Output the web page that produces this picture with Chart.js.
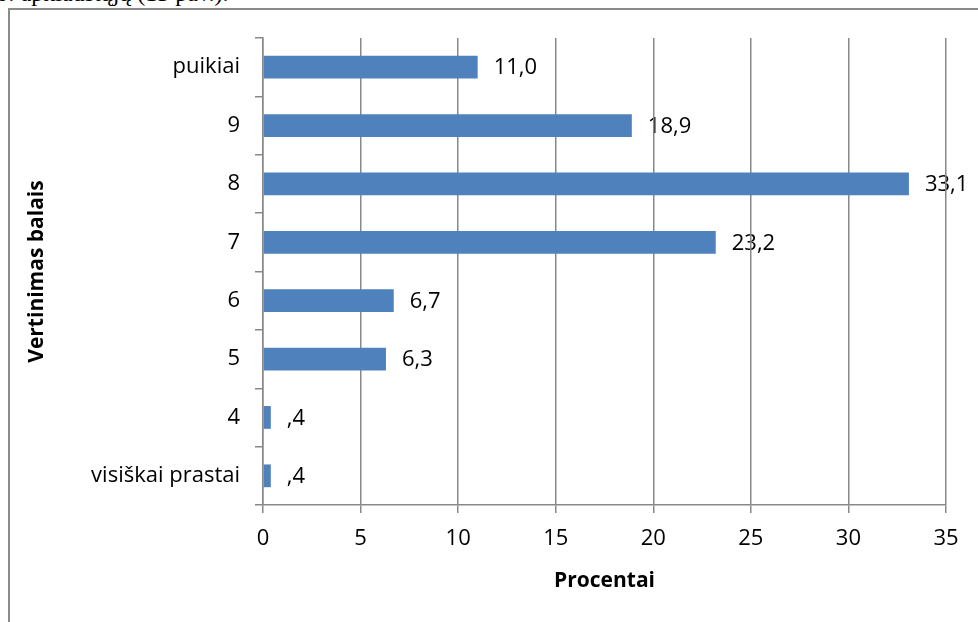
<!DOCTYPE html>
<html>
<head>
<meta charset="utf-8">
<script src="https://cdn.jsdelivr.net/npm/chart.js@4.4.1/dist/chart.umd.min.js"></script>
<style>
  html, body { margin: 0; padding: 0; background: #fff; }
  body { width: 978px; height: 622px; overflow: hidden; position: relative; }
  #caption {
    position: absolute; left: -4px; top: -20px;
    font-family: "Liberation Serif", serif; font-size: 24px; color: #000;
    white-space: nowrap;
  }
  #frame {
    position: absolute; left: 8px; top: 8px; width: 1000px; height: 700px;
    border: 2px solid #8a8a8a;
  }
  #myChart { position: absolute; left: 0; top: 0; }
</style>
</head>
<body>
<div id="caption">o: apklaustųjų (13 pav.).</div>
<div id="frame"></div>
<canvas id="myChart" width="978" height="622"></canvas>
<script>
// categories from top to bottom
const categories = ["puikiai", "9", "8", "7", "6", "5", "4", "visiškai prastai"];
const percents = [11.0, 18.9, 33.1, 23.2, 6.7, 6.3, 0.4, 0.4];
const xTicks = [0, 5, 10, 15, 20, 25, 30, 35];

const fontFam = "'Open Sans', sans-serif";
const grey = "#888888";

const fmt = (v) => v.toFixed(1).replace(".", ",").replace(/^0,/, ",");

// value labels, drawn before the grid so grid lines cross them like in the original
const valueLabels = {
  id: "valueLabels",
  beforeDraw(chart) {
    const ctx = chart.ctx;
    const meta = chart.getDatasetMeta(0);
    ctx.save();
    ctx.font = "22px " + fontFam;
    ctx.fillStyle = "#000";
    ctx.textAlign = "left";
    ctx.textBaseline = "middle";
    meta.data.forEach((bar, i) => {
      ctx.fillText(fmt(percents[i]), bar.x + 16, bar.y + 1);
    });
    ctx.restore();
  }
};

new Chart(document.getElementById("myChart"), {
  type: "bar",
  data: {
    labels: categories,
    datasets: [{
      data: percents,
      backgroundColor: "#4F81BD",
      borderWidth: 0,
      categoryPercentage: 1,
      barPercentage: 0.39
    }]
  },
  plugins: [valueLabels],
  options: {
    indexAxis: "y",
    responsive: false,
    animation: false,
    layout: { padding: { top: 38, right: 32, left: 0, bottom: 0 } },
    plugins: { legend: { display: false }, tooltip: { enabled: false } },
    scales: {
      x: {
        min: 0,
        max: 35,
        afterBuildTicks: (s) => { s.ticks = xTicks.map(v => ({ value: v })); },
        afterFit: (s) => { s.height = 117; },
        ticks: {
          padding: 13,
          color: "#000",
          font: { family: fontFam, size: 22 }
        },
        grid: { color: grey, lineWidth: 1.5, tickLength: 8 },
        border: { color: grey, width: 1.5 },
        title: {
          display: true,
          text: "Procentai",
          color: "#000",
          font: { family: fontFam, size: 21, weight: "bold" },
          padding: { top: 0, bottom: 28 }
        }
      },
      y: {
        afterFit: (s) => { s.width = 263; },
        ticks: {
          padding: 15,
          color: "#000",
          font: { family: fontFam, size: 22 }
        },
        grid: { drawOnChartArea: false, color: grey, lineWidth: 1.5, tickLength: 8 },
        border: { color: grey, width: 1.5 },
        title: {
          display: true,
          text: "Vertinimas balais",
          color: "#000",
          font: { family: fontFam, size: 21, weight: "bold" },
          padding: { top: 24, bottom: 0 }
        }
      }
    }
  }
});
</script>
</body>
</html>
